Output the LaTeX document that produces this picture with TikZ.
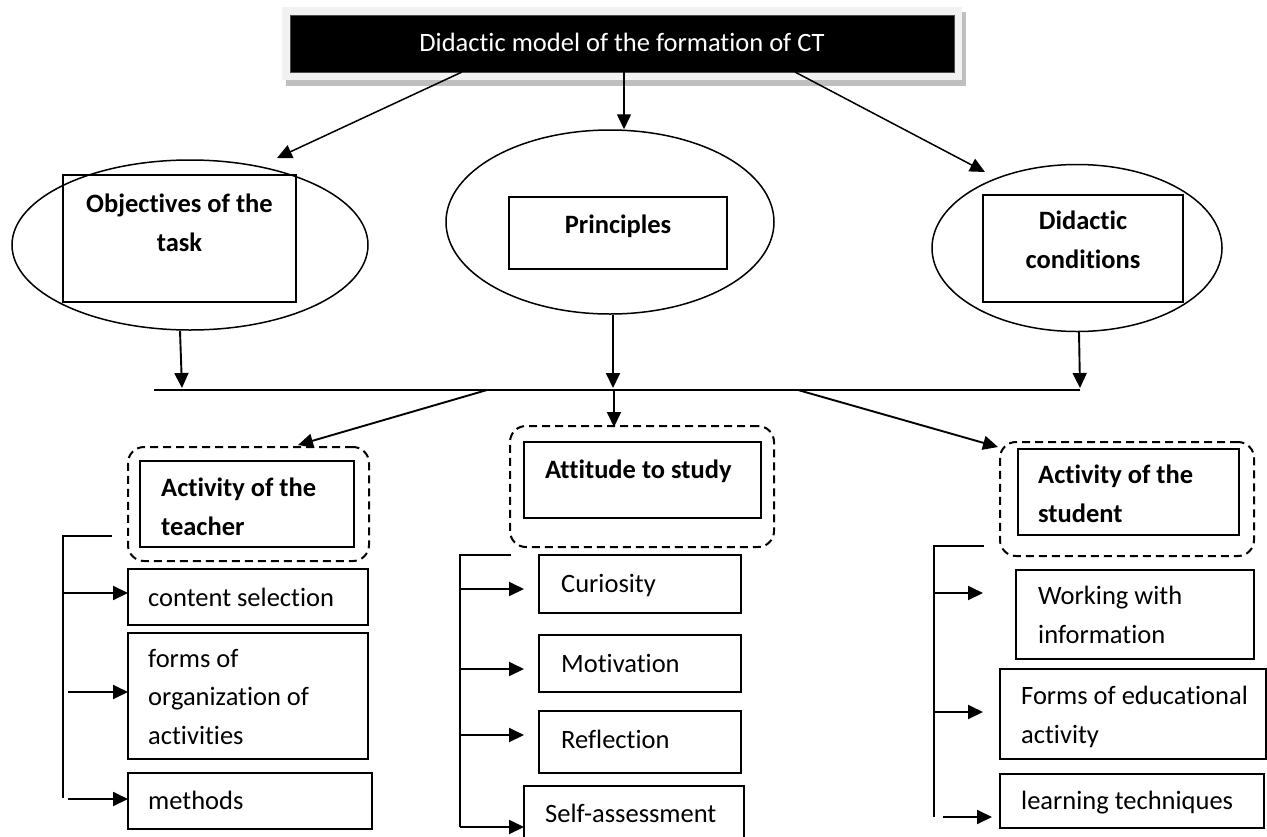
\documentclass[tikz,border=0pt]{standalone}
\usepackage{fontspec}
\setmainfont{Carlito}[Ligatures={NoCommon}]
\usetikzlibrary{arrows.meta,shapes.geometric}
\tikzset{
  box/.style={draw,line width=1.9pt,rectangle,inner sep=0pt},
  oval/.style={draw,line width=1.5pt,ellipse,inner sep=0pt},
  dbox/.style={draw,line width=2pt,rectangle,rounded corners=16pt,dash pattern=on 8pt off 5pt,inner sep=0pt},
  arr/.style={line width=1.9pt,-{Triangle[length=15pt,width=14pt]}},
  ln/.style={line width=1.9pt},
  txt/.style={inner sep=0pt,anchor=base west,align=left,font=\fontsize{26.5}{38.5}\selectfont},
  ctxt/.style={inner sep=0pt,anchor=base,align=center,font=\fontsize{26.5}{38.5}\selectfont},
  btxt/.style={txt,font=\fontsize{26.5}{38.5}\selectfont\bfseries},
  bctxt/.style={ctxt,font=\fontsize{26.5}{38.5}\selectfont\bfseries}
}
\begin{document}
\begin{tikzpicture}[x=1pt,y=-1pt]
\useasboundingbox (0,0) rectangle (1267,836);
% title
\fill[black!25] (286,12) rectangle (966,86);
\fill[black!5] (282,7) rectangle (962,80);
\node[fill=black,draw=black!70,line width=1pt,minimum width=664pt,minimum height=57pt,inner sep=0pt] (title) at (622,43.5) {};
\node[ctxt,text=white] (titletext) at (622,51) {Didactic model of the formation of CT};
% ellipses
\node[oval,minimum width=356pt,minimum height=170pt] (E1) at (190,245) {};
\node[oval,minimum width=328pt,minimum height=184pt] (E2) at (610,222) {};
\node[oval,minimum width=290pt,minimum height=167pt] (E3) at (1077,248) {};
\node[box,minimum width=233pt,minimum height=127pt] (R1) at (179.5,238.5) {};
\node[box,minimum width=218pt,minimum height=72pt] (R2) at (618,233) {};
\node[box,minimum width=200pt,minimum height=107pt] (R3) at (1083,248.5) {};
\node[bctxt] (t1) at (179.5,251) {Objectives of the\\task};
\node[bctxt] (t2) at (618,233) {Principles};
\node[bctxt] (t3) at (1083,268) {Didactic\\conditions};
% title arrows
\coordinate (ta1) at (462,72);
\coordinate (ta2) at (624,72);
\coordinate (ta3) at (795,72);
\coordinate (he1) at (277,158);
\coordinate (he3) at (985,172);
\draw[arr,line width=1.5pt] (ta1) -- (he1);
\draw[arr,line width=1.5pt] (ta2) -- (E2.north -| ta2);
\draw[arr,line width=1.5pt] (ta3) -- (he3);
% horizontal bar
\coordinate (hl) at (154,390);
\coordinate (hr) at (1080,390);
\draw[ln] (hl) -- (hr);
\coordinate (e1b) at (180,331);
\coordinate (e3b) at (1079,332);
\draw[arr] (e1b) -- (182,388);
\draw[arr] (E2.south -| 613,0) -- (613,388);
\draw[arr] (e3b) -- (1080,388);
% dashed boxes
\node[dbox,minimum width=241pt,minimum height=114pt] (D1) at (248.5,504) {};
\node[dbox,minimum width=264pt,minimum height=121pt] (D2) at (642,486.5) {};
\node[dbox,minimum width=254pt,minimum height=114pt] (D3) at (1127,499) {};
\node[box,minimum width=214pt,minimum height=86pt] (I1) at (247,504) {};
\node[box,minimum width=237pt,minimum height=76pt] (I2) at (642.5,480) {};
\node[box,minimum width=221pt,minimum height=86pt] (I3) at (1128.5,492) {};
\node[btxt] (u1) at (161,535) {Activity of the\\teacher};
\node[btxt] (u2) at (545,478) {Attitude to study};
\node[btxt] (u3) at (1038,522) {Activity of the\\student};
\coordinate (b1) at (487,390);
\coordinate (b2) at (614,390);
\coordinate (b3) at (798,390);
\draw[arr] (b1) -- (298,445);
\draw[arr] (b2) -- (614,427);
\draw[arr] (b3) -- (998,447);
% left column
\node[box,minimum width=240pt,minimum height=56pt] (L1) at (248,597) {};
\node[box,minimum width=240pt,minimum height=126pt] (L2) at (248,696) {};
\node[box,minimum width=244pt,minimum height=56pt] (L3) at (250,801) {};
\node[txt] (l1t) at (148,606) {content selection};
\node[txt] (l2t) at (148,744) {forms of\\organization of\\activities};
\node[txt] (l3t) at (148,809) {methods};
\coordinate (lt0) at (112,536);
\coordinate (lt1) at (63,536);
\coordinate (lt2) at (63,798);
\draw[ln] (lt0) -- (lt1) -- (lt2);
\draw[arr] (63,593) -- (128,593);
\draw[arr] (68,692) -- (128,692);
\draw[arr] (68,799) -- (128,799);
% middle column
\node[box,minimum width=202pt,minimum height=58pt] (M1) at (640,584) {};
\node[box,minimum width=202pt,minimum height=57pt] (M2) at (640,663.5) {};
\node[box,minimum width=202pt,minimum height=62pt] (M3) at (640,742) {};
\node[box,minimum width=220pt,minimum height=64pt] (M4) at (634,818) {};
\node[txt] (m1t) at (561,592) {Curiosity};
\node[txt] (m2t) at (561,672) {Motivation};
\node[txt] (m3t) at (561,748) {Reflection};
\node[txt] (m4t) at (545,822) {Self-assessment};
\coordinate (mt0) at (511,555);
\coordinate (mt1) at (460,555);
\coordinate (mt2) at (460,827);
\draw[ln] (mt0) -- (mt1) -- (mt2);
\draw[arr] (460,589) -- (524,589);
\draw[arr] (460,669) -- (524,669);
\draw[arr] (460,735) -- (524,735);
\draw[arr] (460,827) -- (524,827);
% right column
\node[box,minimum width=238pt,minimum height=89pt] (S1) at (1135,614.5) {};
\node[box,minimum width=266pt,minimum height=90pt] (S2) at (1133,714) {};
\node[box,minimum width=264pt,minimum height=54pt] (S3) at (1132,801) {};
\node[txt] (s1t) at (1038,643) {Working with\\information};
\node[txt] (s2t) at (1021,743) {Forms of educational\\activity};
\node[txt] (s3t) at (1021,809) {learning techniques};
\coordinate (rt0) at (984,546);
\coordinate (rt1) at (934,546);
\coordinate (rt2) at (934,817);
\draw[ln] (rt0) -- (rt1) -- (rt2);
\draw[arr] (934,593) -- (983,593);
\draw[arr] (934,712) -- (983,712);
\draw[arr] (943,817) -- (992,817);
\end{tikzpicture}
\end{document}
